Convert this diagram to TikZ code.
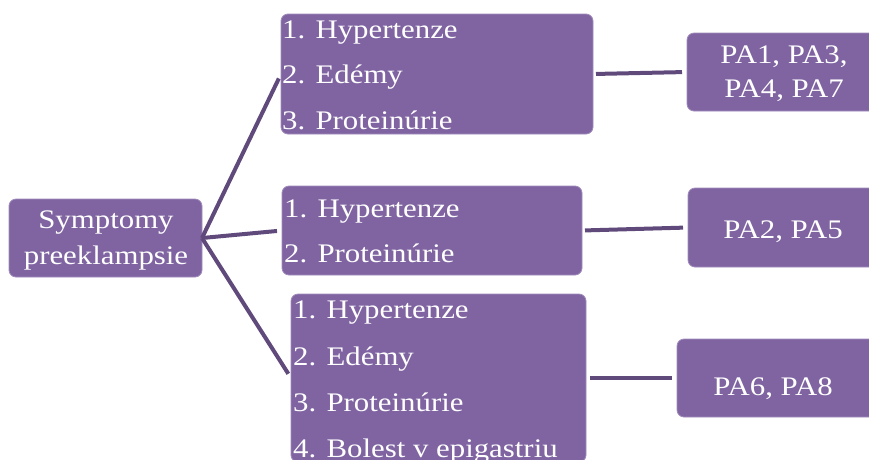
\documentclass[tikz,border=0pt]{standalone}
\usepackage{fontspec}
\setmainfont{Liberation Serif}[FakeStretch=1.15]
\definecolor{boxfill}{HTML}{8064A2}
\definecolor{boxedge}{HTML}{A08CBC}
\definecolor{linecol}{HTML}{604A7B}
\begin{document}
\begin{tikzpicture}[x=1pt,y=-1pt,
  box/.style={fill=boxfill, draw=boxedge, line width=0.8pt, rounded corners=7pt, inner sep=0pt, outer sep=0pt},
  txt/.style={text=white, font=\fontsize{26.8}{30}\selectfont, inner sep=0pt, anchor=base west},
  ctxt/.style={txt, anchor=base},
  link/.style={draw=linecol, line width=4pt}]
\useasboundingbox (0,0) rectangle (869,459);
\clip (0,0) rectangle (869,459);
% boxes
\node[box, minimum width=193pt, minimum height=78pt] (root) at (105.5,238) {};
\node[box, minimum width=312pt, minimum height=120pt] (b1) at (437,74) {};
\node[box, minimum width=300pt, minimum height=89pt] (b2) at (432,230.5) {};
\node[box, minimum width=295pt, minimum height=168pt] (b3) at (438.5,378) {};
\node[box, minimum width=192pt, minimum height=78pt] (p1) at (783,72) {};
\node[box, minimum width=191pt, minimum height=79pt] (p2) at (783.5,227.5) {};
\node[box, minimum width=202pt, minimum height=78pt] (p3) at (778,378) {};
% connectors
\draw[link, shorten >=5pt] (root.east) -- (b1.west);
\draw[link, shorten >=5pt] (root.east) -- (b2.west);
\draw[link, shorten >=5pt] (root.east) -- (b3.west);
\draw[link, shorten <=3pt, shorten >=5pt] (b1.east) -- (p1.west);
\draw[link, shorten <=3pt, shorten >=5pt] (b2.east) -- (p2.west);
\draw[link, shorten <=4pt, shorten >=5pt] (b3.east) -- (p3.west);
% texts
\node[ctxt] (rt1) at (106,228) {Symptomy};
\node[ctxt] (rt2) at (106,264) {preeklampsie};
\node[txt] (b1t1) at (282,38) {1. Hypertenze};
\node[txt] (b1t2) at (282,83) {2. Edémy};
\node[txt] (b1t3) at (282,129) {3. Proteinúrie};
\node[txt] (b2t1) at (284,217) {1. Hypertenze};
\node[txt] (b2t2) at (284,262) {2. Proteinúrie};
\node[txt] (b3t1) at (293,318) {1. Hypertenze};
\node[txt] (b3t2) at (293,365) {2. Edémy};
\node[txt] (b3t3) at (293,411) {3. Proteinúrie};
\node[txt] (b3t4) at (293,457) {4. Bolest v epigastriu};
\node[ctxt] (p1t1) at (784,63) {PA1, PA3,};
\node[ctxt] (p1t2) at (784,97) {PA4, PA7};
\node[ctxt] (p2t1) at (783,238) {PA2, PA5};
\node[ctxt] (p3t1) at (773,395) {PA6, PA8};
\end{tikzpicture}
\end{document}
